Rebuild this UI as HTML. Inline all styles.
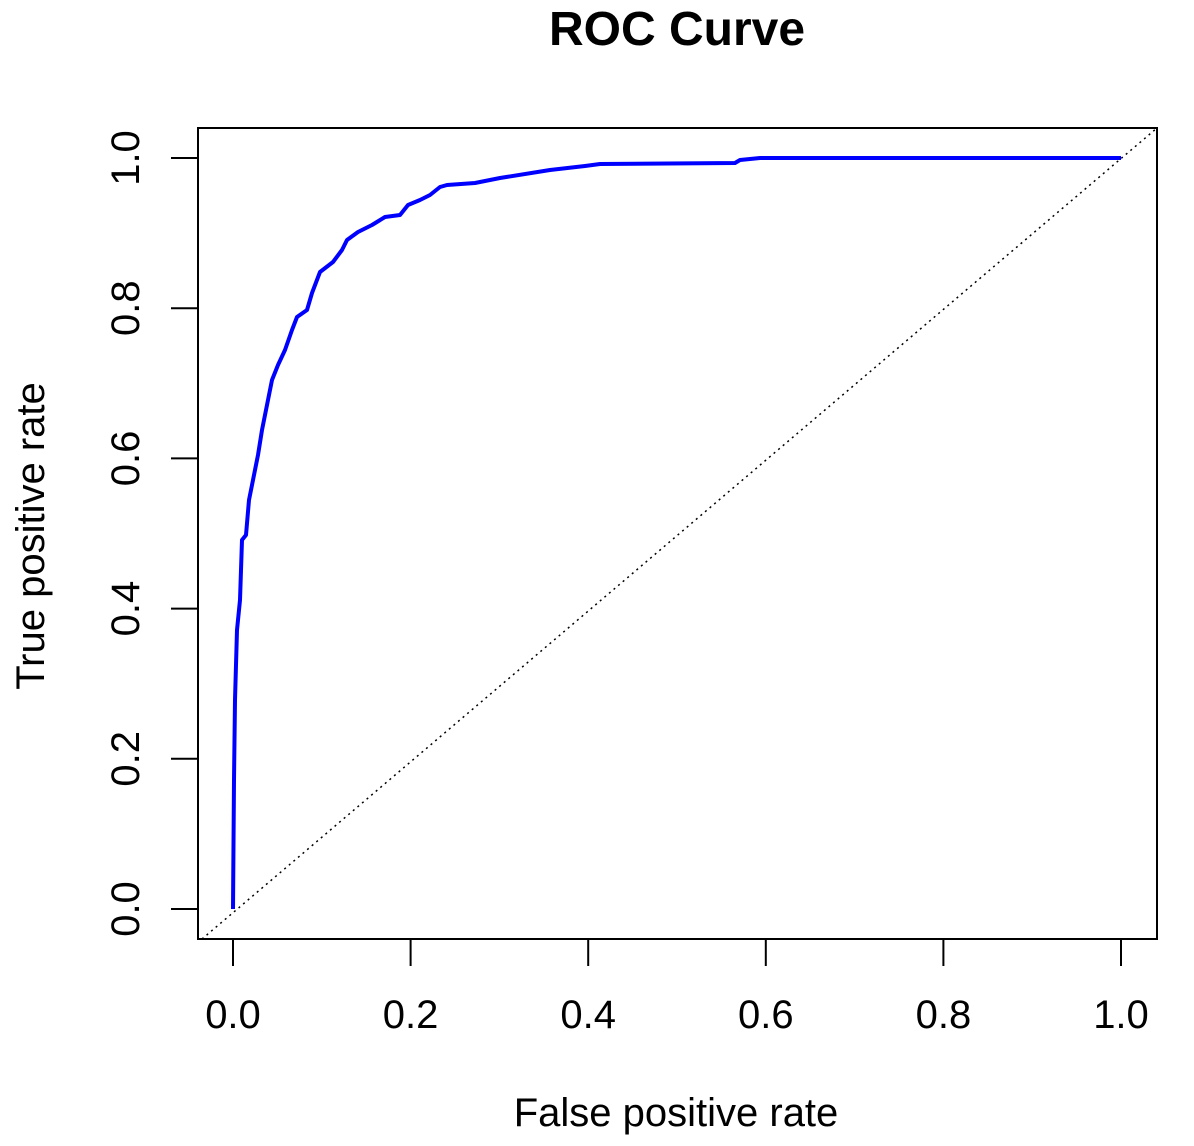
<!DOCTYPE html>
<html><head><style>body{margin:0;background:#fff}svg{display:block}</style></head>
<body>
<svg width="1194" height="1146" viewBox="0 0 1194 1146" xmlns="http://www.w3.org/2000/svg" font-family="Liberation Sans, Arial, sans-serif">
<rect width="1194" height="1146" fill="#fff"/>
<text x="677" y="45" font-size="48" font-weight="bold" text-anchor="middle">ROC Curve</text>
<rect x="198" y="128" width="959" height="811" fill="none" stroke="#000" stroke-width="2"/>
<line x1="202" y1="939" x2="1157" y2="128" stroke="#000" stroke-width="1.5" stroke-dasharray="2,4"/>
<g stroke="#000" stroke-width="2">
<line x1="233" y1="939" x2="1121" y2="939"/>
<line x1="233" y1="939" x2="233" y2="966"/><line x1="410.6" y1="939" x2="410.6" y2="966"/>
<line x1="588.2" y1="939" x2="588.2" y2="966"/><line x1="765.8" y1="939" x2="765.8" y2="966"/>
<line x1="943.4" y1="939" x2="943.4" y2="966"/><line x1="1121" y1="939" x2="1121" y2="966"/>
<line x1="198" y1="158" x2="198" y2="909"/>
<line x1="198" y1="909" x2="171" y2="909"/><line x1="198" y1="758.8" x2="171" y2="758.8"/>
<line x1="198" y1="608.6" x2="171" y2="608.6"/><line x1="198" y1="458.4" x2="171" y2="458.4"/>
<line x1="198" y1="308.2" x2="171" y2="308.2"/><line x1="198" y1="158" x2="171" y2="158"/>
</g>
<g font-size="40" text-anchor="middle">
<text x="233" y="1028">0.0</text><text x="410.6" y="1028">0.2</text><text x="588.2" y="1028">0.4</text>
<text x="765.8" y="1028">0.6</text><text x="943.4" y="1028">0.8</text><text x="1121" y="1028">1.0</text>
<text transform="translate(139,909) rotate(-90)">0.0</text>
<text transform="translate(139,758.8) rotate(-90)">0.2</text>
<text transform="translate(139,608.6) rotate(-90)">0.4</text>
<text transform="translate(139,458.4) rotate(-90)">0.6</text>
<text transform="translate(139,308.2) rotate(-90)">0.8</text>
<text transform="translate(139,158) rotate(-90)">1.0</text>
<text x="676" y="1126">False positive rate</text>
<text transform="translate(44,536) rotate(-90)">True positive rate</text>
</g>
<polyline fill="none" stroke="#0000ff" stroke-width="4" stroke-linejoin="round" points="233,909 234,780 235,700 237,630 240,600 242,540 246,535 249,500 253,480 258,455 262,430 268,400 272,380 278,365 285,350 292,330 297,317 307,310 312,293 320,272 333,262 342,250 347,240 358,232 372,225 385,217 400,215 408,205 420,200 430,195 440,187 447,185 475,183 500,178 550,170 585,166 600,164 735,163 740,160 760,158 1121,158"/>
</svg>
</body></html>
